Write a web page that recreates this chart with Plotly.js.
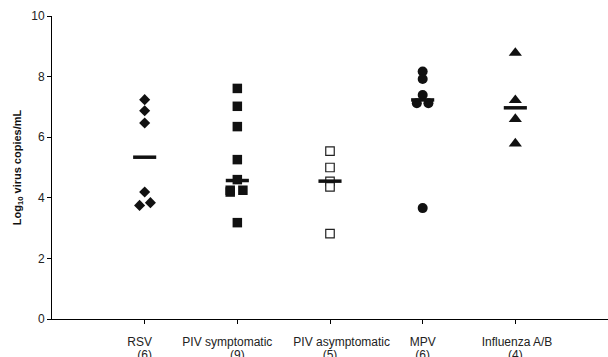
<!DOCTYPE html>
<html>
<head>
<meta charset="utf-8">
<script src="https://cdn.plot.ly/plotly-3.0.1.min.js"></script>
<style>html,body{margin:0;padding:0;background:#fff;}#chart{width:608px;height:357px;}</style>
</head>
<body>
<div id="chart"></div>
<script>
// Category positions and labels
const categories = [1, 2, 3, 4, 5];
const tickLabelsTop = [
  "RSV\u00a0\u00a0\u00a0",
  "PIV symptomatic\u00a0\u00a0\u00a0\u00a0\u00a0\u00a0",
  "\u00a0\u00a0\u00a0\u00a0\u00a0\u00a0\u00a0PIV asymptomatic",
  "MPV",
  "\u00a0Influenza A/B"
];
const tickLabelsCount = ["(6)", "(9)", "(5)", "(6)", "(4)"];

// Series values (log10 virus copies/mL) and horizontal jitter
const rsvValues = [7.24, 6.87, 6.47, 4.19, 3.75, 3.84];
const rsvJitter = [0, 0, 0, 0, -0.055, 0.062];

const pivSymValues = [7.61, 7.02, 6.35, 5.26, 4.60, 4.25, 4.19, 4.25, 3.18];
const pivSymJitter = [0, 0, 0, 0, 0, -0.077, -0.077, 0.06, 0];

const pivAsymValues = [5.54, 5.00, 4.54, 4.36, 2.82];
const pivAsymJitter = [0, 0, 0, 0, 0];

const mpvValues = [8.17, 7.92, 7.39, 7.12, 7.12, 3.66];
const mpvJitter = [0, 0, 0, -0.063, 0.062, 0];

const fluValues = [8.78, 7.22, 6.60, 5.79];
const fluJitter = [0, 0, 0, 0];

// Median per group
const medians = [5.34, 4.57, 4.55, 7.23, 6.97];

function xs(cat, jitter) { return jitter.map(j => cat + j); }

const black = '#111';
const traces = [
  {x: xs(categories[0], rsvJitter), y: rsvValues, type: 'scatter', mode: 'markers',
   marker: {symbol: 'diamond', size: 8.5, color: black, line: {width: 0}}},
  {x: xs(categories[1], pivSymJitter), y: pivSymValues, type: 'scatter', mode: 'markers',
   marker: {symbol: 'square', size: 9.5, color: black, line: {width: 0}}},
  {x: xs(categories[2], pivAsymJitter), y: pivAsymValues, type: 'scatter', mode: 'markers',
   marker: {symbol: 'square', size: 8.5, color: '#fff', line: {width: 1.2, color: '#222'}}},
  {x: xs(categories[3], mpvJitter), y: mpvValues, type: 'scatter', mode: 'markers',
   marker: {symbol: 'circle', size: 10, color: black, line: {width: 0}}},
  {x: xs(categories[4], fluJitter), y: fluValues, type: 'scatter', mode: 'markers',
   marker: {symbol: 'triangle-up', size: 11.5, color: black, line: {width: 0}}},
  {x: categories, y: medians, type: 'scatter', mode: 'markers',
   marker: {symbol: 'line-ew', size: 16.5, color: black, line: {width: 3.5, color: black}}},
  // invisible carrier for the second label row axis
  {x: categories, y: medians, type: 'scatter', mode: 'markers', xaxis: 'x2',
   marker: {size: 1, opacity: 0}, hoverinfo: 'skip'}
];

const tickFont = {family: '"Liberation Sans", Arial, sans-serif', size: 12, color: '#222'};
const layout = {
  width: 608, height: 357,
  margin: {l: 52, r: 0, t: 15.5, b: 38, pad: 0},
  paper_bgcolor: '#fff', plot_bgcolor: '#fff',
  showlegend: false,
  font: {family: '"Liberation Sans", Arial, sans-serif', size: 12, color: '#222'},
  xaxis: {
    range: [0, 6], tickvals: categories, ticktext: tickLabelsTop, tickangle: 0,
    ticks: 'outside', ticklen: 4, tickwidth: 1, tickcolor: '#000',
    showgrid: false, zeroline: false, showline: true, linecolor: '#000', linewidth: 1,
    tickfont: tickFont, ticklabelstandoff: 8
  },
  xaxis2: {
    range: [0, 6], tickvals: categories, ticktext: tickLabelsCount, tickangle: 0,
    overlaying: 'x', anchor: 'y', side: 'bottom',
    ticks: '', showgrid: false, zeroline: false, showline: false,
    tickfont: tickFont, ticklabelstandoff: 27
  },
  yaxis: {
    range: [0, 10], tickvals: [0, 2, 4, 6, 8, 10],
    ticks: 'outside', ticklen: 4, tickwidth: 1, tickcolor: '#000',
    showgrid: false, zeroline: false, showline: true, linecolor: '#000', linewidth: 1,
    tickfont: tickFont,
    title: {text: '<b>Log<sub>10</sub> virus copies/mL</b>', font: {size: 11, color: '#111'}, standoff: 7}
  }
};

Plotly.newPlot('chart', traces, layout, {staticPlot: true, displayModeBar: false});
</script>
</body>
</html>
